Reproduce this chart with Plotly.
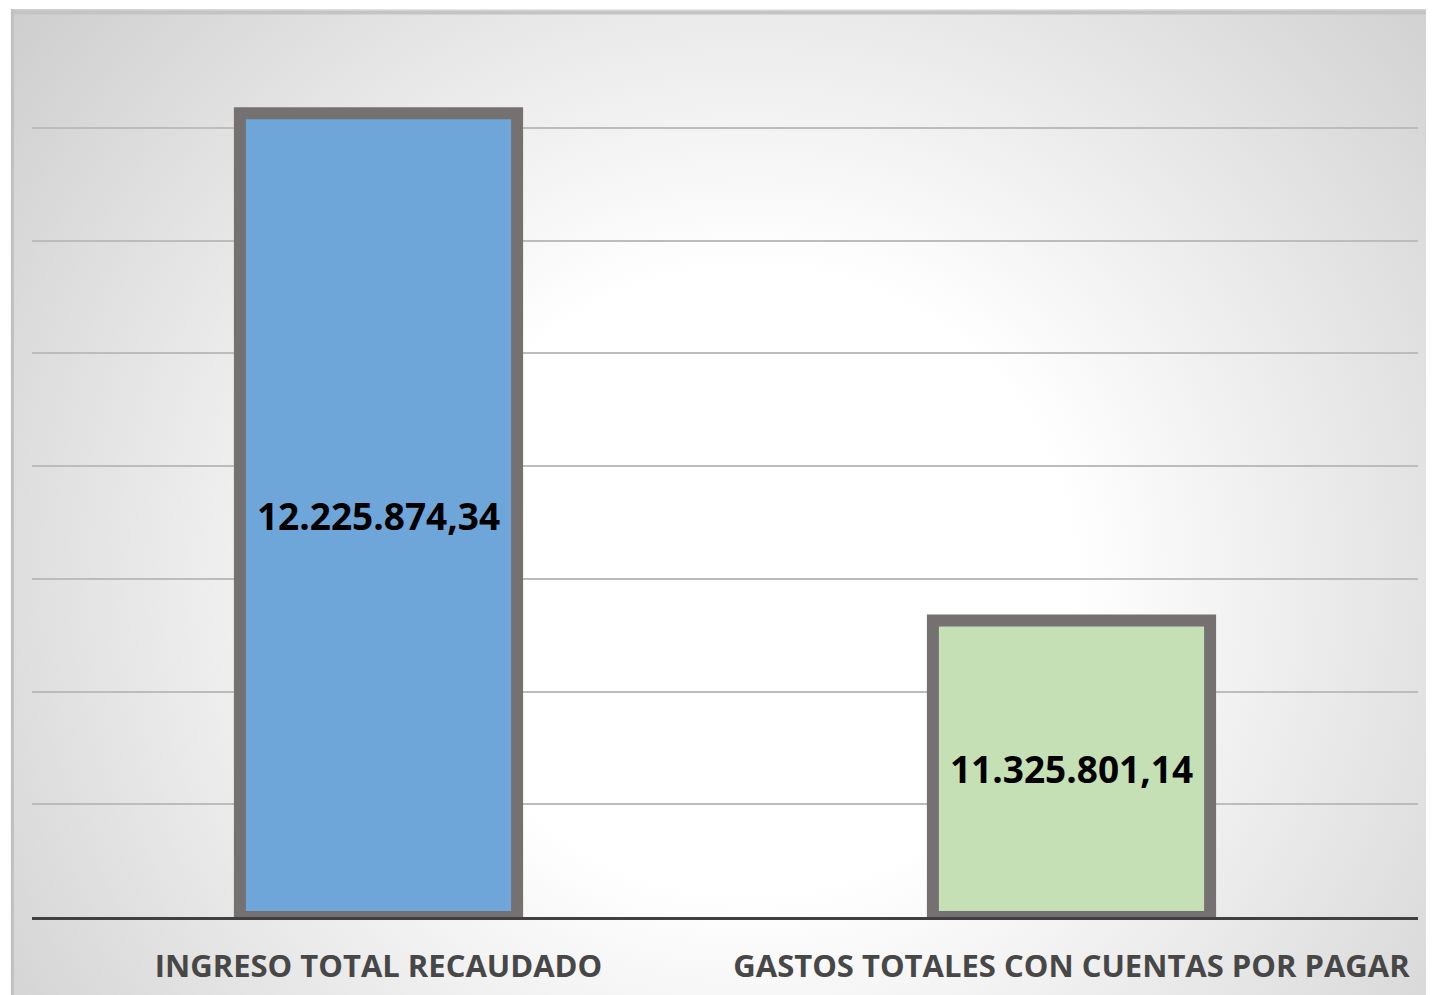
import plotly.graph_objects as go
import urllib.parse

categories = ["INGRESO TOTAL RECAUDADO", "GASTOS TOTALES CON CUENTAS POR PAGAR"]
values = [12225874.34, 11325801.14]
value_labels = ["12.225.874,34", "11.325.801,14"]
fill_colors = ["#6FA6DA", "#C5E0B4"]
axis_min, axis_max, axis_step = 10800000, 12400000, 200000

svg = (
    '<svg xmlns="http://www.w3.org/2000/svg" width="1000" height="1000" preserveAspectRatio="none" viewBox="0 0 1000 1000">'
    '<defs><radialGradient id="g" cx="0" cy="0" r="1" '
    'gradientTransform="translate(0.52 0.58) scale(0.75 1.05)">'
    '<stop offset="0" stop-color="#ffffff"/>'
    '<stop offset="0.3" stop-color="#ffffff"/>'
    '<stop offset="1" stop-color="#c4c4c4"/>'
    '</radialGradient></defs>'
    '<rect x="0" y="0" width="1000" height="1000" fill="url(#g)"/>'
    '</svg>'
)
bg_src = "data:image/svg+xml;charset=utf-8," + urllib.parse.quote(svg)

fig = go.Figure()
fig.add_trace(go.Bar(
    x=categories,
    y=[v - axis_min for v in values],
    base=axis_min,
    text=value_labels,
    textposition="inside",
    insidetextanchor="middle",
    textangle=0,
    textfont=dict(family="Open Sans", size=37, color="#000000", weight="bold"),
    marker=dict(color=fill_colors, line=dict(color="#767171", width=12)),
    width=0.4,
    hoverinfo="skip",
    cliponaxis=True,
))

# page has 8px body margin
W, H = 1426, 987
ml, mr, mt, mb = 24, 16, 7, 78
pw, ph = W - ml - mr, H - mt - mb
card_x0, card_y0 = 3, 1
x0 = (card_x0 - ml) / pw
x1 = (W - ml) / pw
ytop = (H - mb - card_y0) / ph
ybot = (H - mb - H) / ph

fig.update_layout(
    width=W, height=H,
    margin=dict(l=ml, r=mr, t=mt, b=mb),
    paper_bgcolor="white",
    plot_bgcolor="rgba(0,0,0,0)",
    showlegend=False,
    uniformtext=dict(mode="show", minsize=10),
    images=[dict(source=bg_src, xref="paper", yref="paper", x=x0, y=ytop,
                 sizex=x1 - x0, sizey=ytop - ybot, sizing="stretch",
                 xanchor="left", yanchor="top", layer="below")],
    shapes=[
        dict(type="line", xref="paper", yref="paper", x0=x0, x1=x1, y0=ytop - 0.004, y1=ytop - 0.004,
             line=dict(color="#c4c4c4", width=4), layer="below"),
        dict(type="line", xref="paper", yref="paper", x0=x0 + 0.001, x1=x0 + 0.001, y0=ybot, y1=ytop,
             line=dict(color="#c0c0c0", width=3), layer="below"),
    ],
)
fig.update_xaxes(
    showline=True, linecolor="#404040", linewidth=3,
    ticks="", showgrid=False,
    tickfont=dict(family="Open Sans", size=31, color="#474747", weight="bold"),
    ticklabelstandoff=20,
)
fig.update_yaxes(
    range=[axis_min, axis_max], dtick=axis_step,
    showticklabels=False, showgrid=True, gridcolor="#bcbcbc", gridwidth=1.5,
    zeroline=False, showline=False,
)

fig.write_html("out.html")
